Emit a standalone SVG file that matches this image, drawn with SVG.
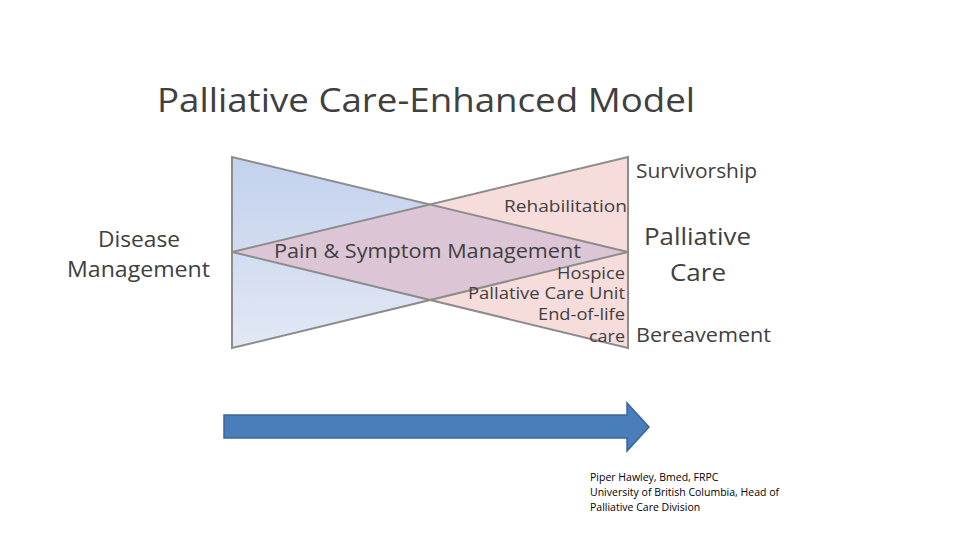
<svg xmlns="http://www.w3.org/2000/svg" width="960" height="540" viewBox="0 0 960 540">
<style>
.t{font-family:"Open Sans","Liberation Sans",sans-serif;fill:#404040}
.r{text-anchor:end}
.c{text-anchor:middle}
.edge{fill:none;stroke:#8c8c8c;stroke-width:2}
</style>
<defs>
<linearGradient id="bg" x1="0" y1="0" x2="0" y2="1">
<stop offset="0" stop-color="#c2d1ed"/>
<stop offset="1" stop-color="#e2e8f5"/>
</linearGradient>
</defs>
<rect width="960" height="540" fill="#ffffff"/>
<text id="title" class="t" x="157" y="112" font-size="32" textLength="538" lengthAdjust="spacingAndGlyphs">Palliative Care-Enhanced Model</text>
<g id="disease-triangle">
<polygon points="232,157 232,348 628,252" fill="url(#bg)"/>
</g>
<g id="palliative-triangle">
<polygon points="628,157 628,348 232,252" fill="#f7dcdc"/>
<polygon points="232,252 428,205 628,252 428,300" fill="#dcc6d6"/>
</g>
<g id="connectors">
<polygon class="edge" points="232,157 232,348 628,252"/>
<polygon class="edge" points="628,157 628,348 232,252"/>
</g>
<g id="labels">
<text class="t" x="98" y="247" font-size="22" textLength="82" lengthAdjust="spacingAndGlyphs">Disease</text>
<text class="t" x="67" y="277" font-size="22" textLength="143" lengthAdjust="spacingAndGlyphs">Management</text>
<text class="t" x="636" y="178" font-size="20" textLength="121" lengthAdjust="spacingAndGlyphs">Survivorship</text>
<text class="t r" x="627" y="212" font-size="16" textLength="123" lengthAdjust="spacingAndGlyphs">Rehabilitation</text>
<text class="t" x="274" y="258" font-size="20" textLength="307" lengthAdjust="spacingAndGlyphs">Pain &amp; Symptom Management</text>
<text class="t" x="644" y="245" font-size="24" textLength="107" lengthAdjust="spacingAndGlyphs">Palliative</text>
<text class="t" x="670" y="281" font-size="24" textLength="56" lengthAdjust="spacingAndGlyphs">Care</text>
<text class="t r" x="625" y="279" font-size="16" textLength="68" lengthAdjust="spacingAndGlyphs">Hospice</text>
<text class="t r" x="625" y="299" font-size="16" textLength="157" lengthAdjust="spacingAndGlyphs">Pallative Care Unit</text>
<text class="t r" x="625" y="320" font-size="16" textLength="87" lengthAdjust="spacingAndGlyphs">End-of-life</text>
<text class="t r" x="625" y="342" font-size="16" textLength="36" lengthAdjust="spacingAndGlyphs">care</text>
<text class="t" x="636" y="342" font-size="20" textLength="135" lengthAdjust="spacingAndGlyphs">Bereavement</text>
</g>
<g id="arrow">
<polygon points="224,415 627,415 627,403 649,427 627,451 627,438 224,438" fill="#4a7ebb" stroke="#3a669a" stroke-width="1.5"/>
</g>
<g id="credit" font-family="'Open Sans','Liberation Sans',sans-serif" font-size="10.5" fill="#000000">
<text x="590" y="481">Piper Hawley, Bmed, FRPC</text>
<text x="590" y="496">University of British Columbia, Head of</text>
<text x="590" y="511">Palliative Care Division</text>
</g>
</svg>
